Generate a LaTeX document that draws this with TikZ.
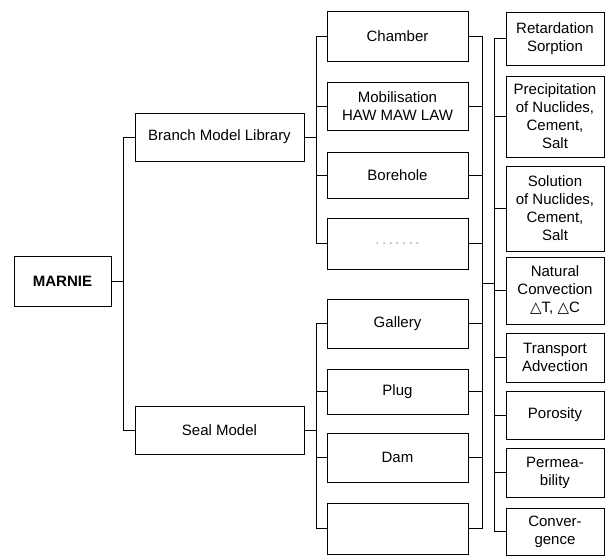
\documentclass[tikz,border=0pt]{standalone}
\usepackage{fontspec}
\setmainfont{Liberation Sans}
\newfontfamily\symfont{DejaVu Sans}
\begin{document}
\begin{tikzpicture}[
        x=1pt, y=-1pt,
        font=\fontsize{15}{18}\selectfont,
        box/.style={rectangle, draw=black, line width=0.8pt, inner sep=1pt, align=center},
        midbox/.style={box, minimum width=141pt},
        propbox/.style={box, minimum width=98pt},
        link/.style={line width=0.8pt}
    ]
        \useasboundingbox (0,0) rectangle (606,556);

        \node[box, minimum width=97pt, minimum height=50pt, font=\fontsize{15}{18}\selectfont\bfseries] (marnie) at (62.5,281) {MARNIE};
        \node[box, minimum width=169pt, minimum height=48pt] (branch) at (219.5,137) {Branch\ Model\ Library};
        \node[box, minimum width=169pt, minimum height=48pt] (seal) at (219.5,430) {Seal\ Model};

        \node[midbox, minimum height=50pt] (chamber) at (397.5,36) {Chamber};
        \node[midbox, minimum height=48pt] (mobil) at (397.5,106) {Mobilisation\\HAW\ MAW\ LAW};
        \node[midbox, minimum height=46pt] (borehole) at (397.5,175) {Borehole};
        \node[midbox, minimum height=51pt] (dots) at (397.5,243.5) {\textcolor{black!35}{.\,.\,.\,.\,.\,.\,.}};
        \node[midbox, minimum height=49pt] (gallery) at (397.5,323.5) {Gallery};
        \node[midbox, minimum height=45pt] (plug) at (397.5,391.5) {Plug};
        \node[midbox, minimum height=49pt] (dam) at (397.5,457.5) {Dam};
        \node[midbox, minimum height=51pt] (empty) at (397.5,528.5) {};

        \node[propbox, minimum height=53pt] (retard) at (555,38.5) {Retardation\\Sorption};
        \node[propbox, minimum height=81pt] (precip) at (555,116.5) {Precipitation\\of Nuclides,\\Cement,\\Salt};
        \node[propbox, minimum height=85pt] (solut) at (555,208.5) {Solution\\of Nuclides,\\Cement,\\Salt};
        \node[propbox, minimum height=67pt] (natconv) at (555,290.5) {Natural\\Convection\\{\symfont △}T, {\symfont △}C};
        \node[propbox, minimum height=49pt] (transp) at (555,357.5) {Transport\\Advection};
        \node[propbox, minimum height=48pt] (poros) at (555,415) {Porosity};
        \node[propbox, minimum height=49pt] (perm) at (555,472.5) {Permea-\\bility};
        \node[propbox, minimum height=47pt] (conv) at (555,531.5) {Conver-\\gence};

        \coordinate (busA) at (123,0);
        \coordinate (busB) at (316,0);
        \coordinate (busC) at (482,0);
        \coordinate (busD) at (494,0);
        \coordinate (bridge) at (482,283);

        \draw[link] (marnie.east) -- (marnie.east -| busA);
        \draw[link] (branch.west) -- (branch.west -| busA) -- (seal.west -| busA) -- (seal.west);

        \draw[link] (branch.east) -- (branch.east -| busB);
        \draw[link] (chamber.west) -- (chamber.west -| busB) -- (dots.west -| busB) -- (dots.west);
        \draw[link] (mobil.west) -- (mobil.west -| busB);
        \draw[link] (borehole.west) -- (borehole.west -| busB);

        \draw[link] (seal.east) -- (seal.east -| busB);
        \draw[link] (gallery.west) -- (gallery.west -| busB) -- (empty.west -| busB) -- (empty.west);
        \draw[link] (plug.west) -- (plug.west -| busB);
        \draw[link] (dam.west) -- (dam.west -| busB);

        \draw[link] (chamber.east) -- (chamber.east -| busC) -- (empty.east -| busC) -- (empty.east);
        \draw[link] (mobil.east) -- (mobil.east -| busC);
        \draw[link] (borehole.east) -- (borehole.east -| busC);
        \draw[link] (dots.east) -- (dots.east -| busC);
        \draw[link] (gallery.east) -- (gallery.east -| busC);
        \draw[link] (plug.east) -- (plug.east -| busC);
        \draw[link] (dam.east) -- (dam.east -| busC);
        \draw[link] (bridge) -- (bridge -| busD);

        \draw[link] (retard.west) -- (retard.west -| busD) -- (conv.west -| busD) -- (conv.west);
        \draw[link] (precip.west) -- (precip.west -| busD);
        \draw[link] (solut.west) -- (solut.west -| busD);
        \draw[link] (natconv.west) -- (natconv.west -| busD);
        \draw[link] (transp.west) -- (transp.west -| busD);
        \draw[link] (poros.west) -- (poros.west -| busD);
        \draw[link] (perm.west) -- (perm.west -| busD);
    \end{tikzpicture}
\end{document}
